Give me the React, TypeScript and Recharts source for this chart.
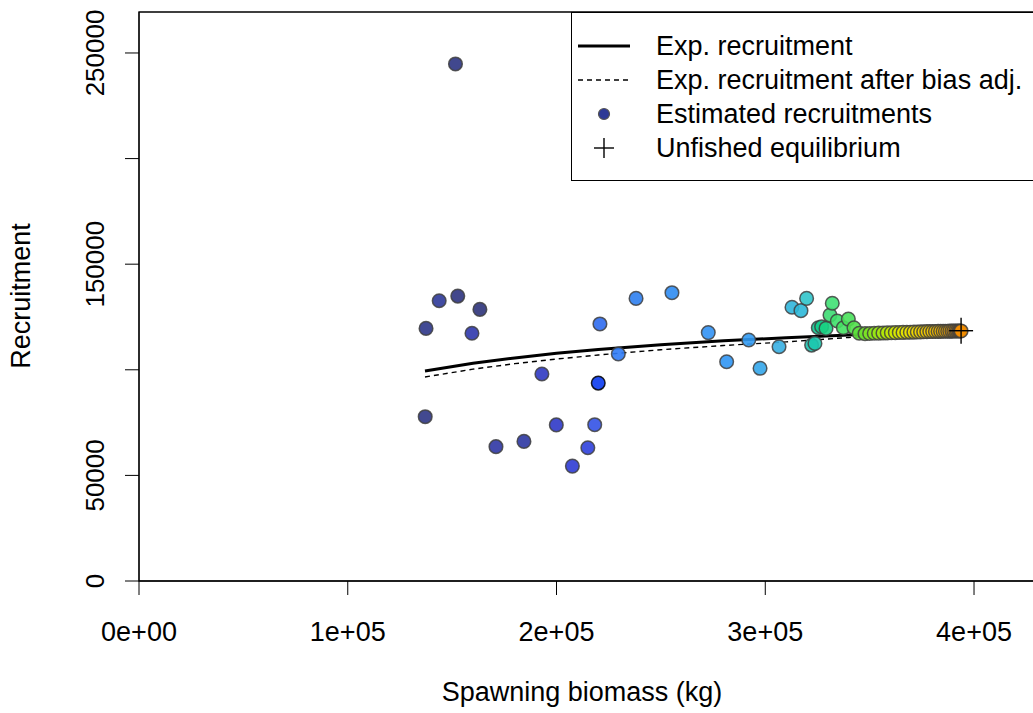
import { ComposedChart, Line, Scatter, XAxis, YAxis, Legend, ReferenceArea, Cell, Label } from 'recharts';

// expected recruitment curve (Beverton-Holt)
const curveSSB = [137000, 160000, 180000, 200000, 220000, 250000, 280000, 310000, 340000, 370000, 393800];
const expRecruit = [99400, 103100, 105600, 107800, 109600, 111900, 113700, 115200, 116500, 117600, 118400];
const biasAdjRecruit = [96600, 100300, 102900, 105100, 107000, 109500, 111500, 113200, 115300, 117200, 118300];

// estimated recruitments (historical years)
const histSSB = [
  137500, 143800, 152700, 163300, 159500, 137100, 151600,
  171000, 184400, 193000, 199900, 207600, 215000, 218300, 220000,
  220800, 229600, 238100, 255300, 272700, 281500, 292100, 297500, 306600,
  312800, 317100, 319800, 322200, 323800, 325400, 327000, 329100,
  331000, 332100, 334500, 337400, 339800, 342500, 345000,
];
const histRecruit = [
  119600, 132700, 134900, 128600, 117300, 77800, 244800,
  63600, 66100, 98000, 73900, 54400, 63100, 74000, 93700,
  121700, 107500, 133800, 136500, 117600, 103800, 114100, 100700, 110900,
  129600, 128000, 133800, 111700, 112500, 119900, 120400, 119600,
  125900, 131500, 123100, 119900, 124000, 119900, 117300,
];
const histColors = [
  '#2D3688', '#2E3898', '#2D3380', '#2E337A', '#2F37AC', '#2E3584', '#2C3482',
  '#2F36A4', '#2E37A2', '#2F39C2', '#2F38C8', '#2E3BD4', '#2F40DC', '#3352E6', '#0B3BEF',
  '#2F6BF0', '#2F7BF6', '#2F80F0', '#2F8CF2', '#3292F4', '#3096F4', '#329AF2', '#34A6EA', '#37AFE2',
  '#30B5DA', '#2CB8D8', '#30C4CA', '#1EC4B2', '#1CC6AE', '#10C892', '#12CC8A', '#1AD082',
  '#3CDC72', '#40E074', '#3EE06A', '#44E062', '#48E05A', '#50E04A', '#5CE03A',
];

// forecast years sitting on the curve towards unfished
const foreSSB = [
  347800, 350000, 352200, 354300, 356400, 358400, 360400, 362300, 364200, 366000, 367800,
  369500, 371200, 372800, 374400, 375900, 377400, 378800, 380200, 381500, 382800, 384000,
  385200, 386300, 387400, 388400, 389400, 390300, 391200, 392000, 392700, 393300, 393800,
];
const foreRecruit = [
  117100, 117200, 117300, 117350, 117400, 117500, 117550, 117600, 117650, 117700, 117750,
  117800, 117850, 117900, 117950, 118000, 118050, 118100, 118120, 118150, 118180, 118210,
  118240, 118260, 118280, 118300, 118320, 118340, 118360, 118370, 118380, 118390, 118400,
];
const foreColors = [
  '#6EE02C', '#7CE224', '#8AE41C', '#98E614', '#A6E80E', '#B4E808', '#C2E804', '#CEE800', '#D8E800', '#E0E600', '#E6E400',
  '#EAE000', '#ECDC00', '#EED800', '#F0D400', '#F0D000', '#F2CC00', '#F2C800', '#F2C400', '#F2C000', '#F2BC00', '#F2B800',
  '#F2B400', '#F2B000', '#F2AC00', '#F2A800', '#F2A400', '#F2A000', '#F29C00', '#F29800', '#F29400', '#F29000', '#F28C00',
];

const unfishedSSB = [393800];
const unfishedRecruit = [118500];

const xTicks = [0, 100000, 200000, 300000, 400000];
const yTicks = [0, 50000, 100000, 150000, 200000, 250000];
const yLabelled = [0, 50000, 150000, 250000];

const font = '"Liberation Sans", Arial, Helvetica, sans-serif';
const fs = 27;

const expLine = curveSSB.map((x, i) => ({ x, y: expRecruit[i] }));
const biasLine = curveSSB.map((x, i) => ({ x, y: biasAdjRecruit[i] }));
const histPts = histSSB.map((x, i) => ({ x, y: histRecruit[i] }));
const forePts = foreSSB.map((x, i) => ({ x, y: foreRecruit[i] }));
const unfished = unfishedSSB.map((x, i) => ({ x, y: unfishedRecruit[i] }));

const fmtX = (v: number) => (v === 0 ? '0e+00' : `${v / 100000}e+05`);

function YTick(props: any) {
  const { x, y, payload } = props;
  if (!yLabelled.includes(payload.value)) return null;
  const tx = x - 19;
  return (
    <text x={tx} y={y} transform={`rotate(-90, ${tx}, ${y})`} textAnchor="middle"
      fontFamily={font} fontSize={26} fill="#000">{payload.value}</text>
  );
}

function Dot(props: any) {
  const { cx, cy, fill, stroke } = props;
  return <circle cx={cx} cy={cy} r={6.8} fill={fill} fillOpacity={0.9} stroke={stroke || '#404040'} strokeOpacity={0.85} strokeWidth={1.5} />;
}

function Plus(props: any) {
  const { cx, cy } = props;
  return (
    <g stroke="#000" strokeWidth={1.4}>
      <line x1={cx - 12} y1={cy} x2={cx + 12} y2={cy} />
      <line x1={cx} y1={cy - 13} x2={cx} y2={cy + 13} />
    </g>
  );
}

function LegendBox() {
  const row = { height: 34, display: 'flex', alignItems: 'center' } as const;
  const txt = { fontFamily: font, fontSize: fs, color: '#000', whiteSpace: 'nowrap' } as const;
  return (
    <div style={{ border: '1.3px solid #000', borderRight: 'none', background: '#fff', width: 480, height: 169, boxSizing: 'border-box', paddingTop: 16 }}>
      <div style={row}>
        <svg width={84} height={34}><line x1={6} y1={17} x2={58} y2={17} stroke="#000" strokeWidth={3} /></svg>
        <span style={txt}>Exp. recruitment</span>
      </div>
      <div style={row}>
        <svg width={84} height={34}><line x1={6} y1={17} x2={58} y2={17} stroke="#000" strokeWidth={1.4} strokeDasharray="5 4" /></svg>
        <span style={txt}>Exp. recruitment after bias adj.</span>
      </div>
      <div style={row}>
        <svg width={84} height={34}><circle cx={32} cy={17} r={5.5} fill="#2E3A96" stroke="#555" strokeWidth={1.2} /></svg>
        <span style={txt}>Estimated recruitments</span>
      </div>
      <div style={row}>
        <svg width={84} height={34}>
          <line x1={22} y1={17} x2={42} y2={17} stroke="#000" strokeWidth={1.4} />
          <line x1={32} y1={7} x2={32} y2={27} stroke="#000" strokeWidth={1.4} />
        </svg>
        <span style={txt}>Unfished equilibrium</span>
      </div>
    </div>
  );
}

export default function App() {
  return (
    <div style={{ position: 'absolute', left: 0, top: 0, width: 1033, height: 713, overflow: 'hidden', background: '#fff' }}>
      <ComposedChart width={1045} height={713} margin={{ top: 12, right: 0, bottom: 0, left: 0 }}>
        <XAxis type="number" dataKey="x" domain={[0, 434000]} ticks={xTicks} tickFormatter={fmtX}
          allowDataOverflow height={132} tickSize={14} tickMargin={27}
          axisLine={{ stroke: '#000' }} tickLine={{ stroke: '#000' }}
          tick={{ fontFamily: font, fontSize: fs, fill: '#000' }}>
          <Label content={() => (
            <text x={582} y={701} textAnchor="middle" fontFamily={font} fontSize={fs} fill="#000">Spawning biomass (kg)</text>
          )} />
        </XAxis>
        <YAxis type="number" dataKey="y" domain={[0, 269400]} ticks={yTicks} allowDataOverflow
          width={139} tickSize={14} tickMargin={2}
          axisLine={{ stroke: '#000' }} tickLine={{ stroke: '#000' }} tick={<YTick />}>
          <Label content={() => (
            <text x={30} y={296} transform="rotate(-90, 30, 296)" textAnchor="middle" fontFamily={font} fontSize={fs} fill="#000">Recruitment</text>
          )} />
        </YAxis>
        <ReferenceArea x1={0} x2={434000} y1={0} y2={269400} fill="none" stroke="#000" strokeWidth={1.3} />
        <Line data={biasLine} dataKey="y" type="linear" stroke="#000" strokeWidth={1.4} strokeDasharray="5 4" dot={false} isAnimationActive={false} />
        <Line data={expLine} dataKey="y" type="linear" stroke="#000" strokeWidth={3} dot={false} isAnimationActive={false} />
        <Scatter data={histPts} dataKey="y" shape={<Dot />} isAnimationActive={false}>
          {histPts.map((_, i) => (
            <Cell key={i} fill={histColors[i]} stroke={i === 14 ? '#000' : '#404040'} />
          ))}
        </Scatter>
        <Scatter data={forePts} dataKey="y" shape={<Dot />} isAnimationActive={false}>
          {forePts.map((_, i) => (
            <Cell key={i} fill={foreColors[i]} />
          ))}
        </Scatter>
        <Scatter data={unfished} dataKey="y" shape={<Plus />} isAnimationActive={false} />
        <Legend layout="horizontal" verticalAlign="middle" align="center" content={<LegendBox />}
          wrapperStyle={{ left: 571, top: 12, width: 480 }} />
      </ComposedChart>
    </div>
  );
}
